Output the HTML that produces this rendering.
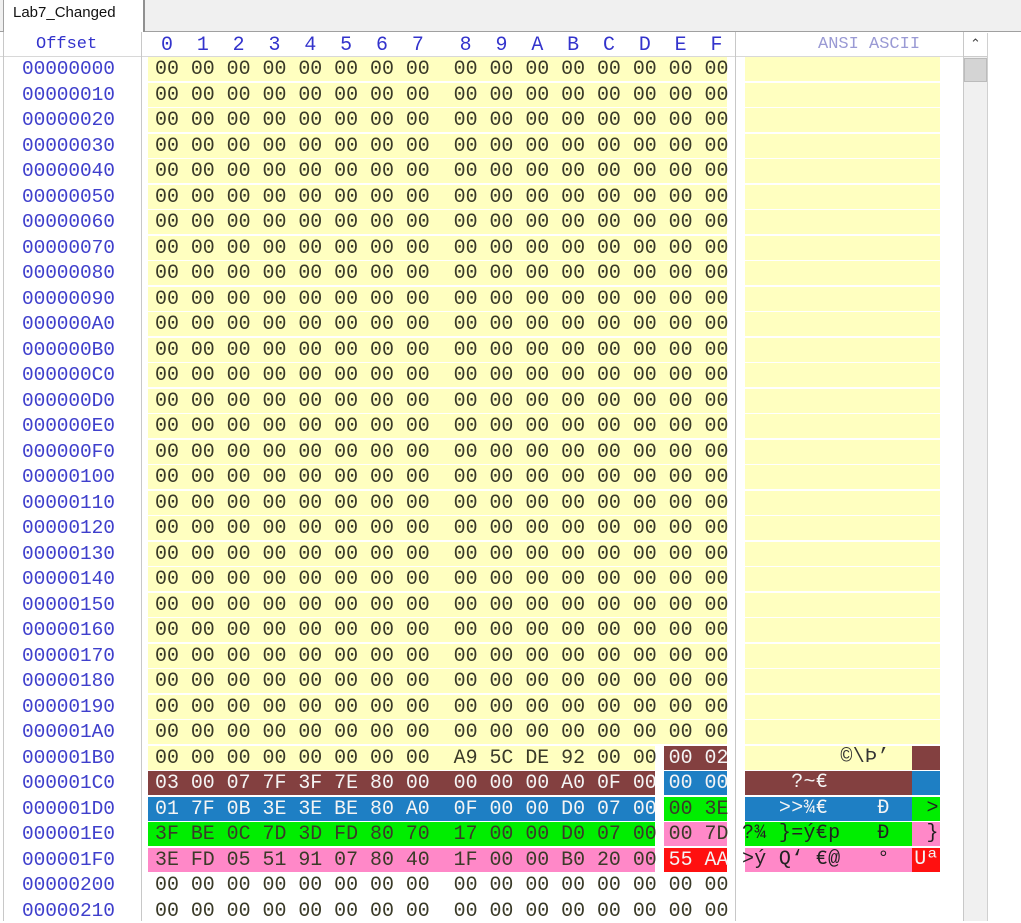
<!DOCTYPE html>
<html><head><meta charset="utf-8"><style>
body{margin:0;width:1021px;height:921px;background:#fff;position:relative;overflow:hidden;font-family:"Liberation Mono",monospace;}
.tabbar{position:absolute;left:0;top:0;width:1021px;height:31px;background:#f0f0f0;border-bottom:1px solid #a0a0a0;}
.tab{position:absolute;left:3px;top:0;width:139px;height:32px;background:#fff;border-left:1px solid #a0a0a0;border-right:2px solid #909090;font-family:"Liberation Sans",sans-serif;font-size:15px;line-height:26px;text-indent:9px;color:#111;}
.vl{position:absolute;top:32px;width:1px;height:889px;background:#c8c8c8;}
.hdr{position:absolute;top:33px;left:0;height:23px;width:963px;border-bottom:1px solid #d8d8d8;font-size:17px;line-height:23px;color:#3333cc;white-space:pre;}
.r{position:absolute;left:0;height:24px;width:963px;white-space:pre;font-size:19.92px;line-height:24px;}
.r i,.r b,.r u{top:0;}
.r i{position:absolute;left:22px;font-style:normal;color:#3f3fcc;font-size:19.5px;letter-spacing:-0.1px;}
.r b{position:absolute;left:155px;font-weight:normal;color:#3a3a28;}
.r u{position:absolute;left:742px;text-decoration:none;font-size:20px;letter-spacing:0.3px;}
.y:before{content:"";position:absolute;left:148px;width:579px;top:0;height:24px;background:#ffffc0;}
.y:after{content:"";position:absolute;left:745px;width:195px;top:0;height:24px;background:#ffffc0;}
.bx{position:absolute;top:0;height:24px;}
.r .w{color:#f4f4f4}
</style></head><body>
<div class="tabbar"></div>
<div class="tab">Lab7_Changed</div>
<div class="hdr"><span style="position:absolute;left:36px">Offset</span><span style="position:absolute;left:161px;font-size:19.92px">0  1  2  3  4  5  6  7   8  9  A  B  C  D  E  F</span><span style="position:absolute;left:818px;color:#9a9ad4">ANSI ASCII</span></div>
<div class="vl" style="left:3px"></div>
<div class="vl" style="left:141px"></div>
<div class="vl" style="left:735px"></div>
<div class="vl" style="left:963px"></div>
<div style="position:absolute;left:964px;top:33px;width:23px;height:888px;background:#f0f0f0;border-right:1px solid #d0d0d0"></div>
<div style="position:absolute;left:964px;top:33px;width:23px;height:23px;background:#fff;border-bottom:1px solid #ccc;text-align:center;font-family:'DejaVu Sans',sans-serif;font-size:13px;line-height:23px;color:#444">&#8963;</div>
<div style="position:absolute;left:964px;top:58px;width:23px;height:24px;background:#d4d4d4;border:1px solid #bbb;box-sizing:border-box"></div>

<div class="r y" style="top:57px"><i>00000000</i><b>00 00 00 00 00 00 00 00  00 00 00 00 00 00 00 00</b></div>
<div class="r y" style="top:82.5px"><i>00000010</i><b>00 00 00 00 00 00 00 00  00 00 00 00 00 00 00 00</b></div>
<div class="r y" style="top:108px"><i>00000020</i><b>00 00 00 00 00 00 00 00  00 00 00 00 00 00 00 00</b></div>
<div class="r y" style="top:133.5px"><i>00000030</i><b>00 00 00 00 00 00 00 00  00 00 00 00 00 00 00 00</b></div>
<div class="r y" style="top:159px"><i>00000040</i><b>00 00 00 00 00 00 00 00  00 00 00 00 00 00 00 00</b></div>
<div class="r y" style="top:184.5px"><i>00000050</i><b>00 00 00 00 00 00 00 00  00 00 00 00 00 00 00 00</b></div>
<div class="r y" style="top:210px"><i>00000060</i><b>00 00 00 00 00 00 00 00  00 00 00 00 00 00 00 00</b></div>
<div class="r y" style="top:235.5px"><i>00000070</i><b>00 00 00 00 00 00 00 00  00 00 00 00 00 00 00 00</b></div>
<div class="r y" style="top:261px"><i>00000080</i><b>00 00 00 00 00 00 00 00  00 00 00 00 00 00 00 00</b></div>
<div class="r y" style="top:286.5px"><i>00000090</i><b>00 00 00 00 00 00 00 00  00 00 00 00 00 00 00 00</b></div>
<div class="r y" style="top:312px"><i>000000A0</i><b>00 00 00 00 00 00 00 00  00 00 00 00 00 00 00 00</b></div>
<div class="r y" style="top:337.5px"><i>000000B0</i><b>00 00 00 00 00 00 00 00  00 00 00 00 00 00 00 00</b></div>
<div class="r y" style="top:363px"><i>000000C0</i><b>00 00 00 00 00 00 00 00  00 00 00 00 00 00 00 00</b></div>
<div class="r y" style="top:388.5px"><i>000000D0</i><b>00 00 00 00 00 00 00 00  00 00 00 00 00 00 00 00</b></div>
<div class="r y" style="top:414px"><i>000000E0</i><b>00 00 00 00 00 00 00 00  00 00 00 00 00 00 00 00</b></div>
<div class="r y" style="top:439.5px"><i>000000F0</i><b>00 00 00 00 00 00 00 00  00 00 00 00 00 00 00 00</b></div>
<div class="r y" style="top:465px"><i>00000100</i><b>00 00 00 00 00 00 00 00  00 00 00 00 00 00 00 00</b></div>
<div class="r y" style="top:490.5px"><i>00000110</i><b>00 00 00 00 00 00 00 00  00 00 00 00 00 00 00 00</b></div>
<div class="r y" style="top:516px"><i>00000120</i><b>00 00 00 00 00 00 00 00  00 00 00 00 00 00 00 00</b></div>
<div class="r y" style="top:541.5px"><i>00000130</i><b>00 00 00 00 00 00 00 00  00 00 00 00 00 00 00 00</b></div>
<div class="r y" style="top:567px"><i>00000140</i><b>00 00 00 00 00 00 00 00  00 00 00 00 00 00 00 00</b></div>
<div class="r y" style="top:592.5px"><i>00000150</i><b>00 00 00 00 00 00 00 00  00 00 00 00 00 00 00 00</b></div>
<div class="r y" style="top:618px"><i>00000160</i><b>00 00 00 00 00 00 00 00  00 00 00 00 00 00 00 00</b></div>
<div class="r y" style="top:643.5px"><i>00000170</i><b>00 00 00 00 00 00 00 00  00 00 00 00 00 00 00 00</b></div>
<div class="r y" style="top:669px"><i>00000180</i><b>00 00 00 00 00 00 00 00  00 00 00 00 00 00 00 00</b></div>
<div class="r y" style="top:694.5px"><i>00000190</i><b>00 00 00 00 00 00 00 00  00 00 00 00 00 00 00 00</b></div>
<div class="r y" style="top:720px"><i>000001A0</i><b>00 00 00 00 00 00 00 00  00 00 00 00 00 00 00 00</b></div>

<div class="r" style="top:745.5px"><div class="bx" style="left:148px;width:507px;background:#ffffc0"></div><div class="bx" style="left:664px;width:63px;background:#834040"></div><div class="bx" style="left:745px;width:167px;background:#ffffc0"></div><div class="bx" style="left:912px;width:28px;background:#834040"></div><i>000001B0</i><b>00 00 00 00 00 00 00 00  A9 5C DE 92 00 00 <span class="w">00 02</span></b><u style="color:#333">        ©\Þ’</u></div>

<div class="r" style="top:771px"><div class="bx" style="left:148px;width:507px;background:#834040"></div><div class="bx" style="left:664px;width:63px;background:#1e7fc4"></div><div class="bx" style="left:745px;width:167px;background:#834040"></div><div class="bx" style="left:912px;width:28px;background:#1e7fc4"></div><i>000001C0</i><b class="w">03 00 07 7F 3F 7E 80 00  00 00 00 A0 0F 00 00 00</b><u class="w">    ?~€</u></div>

<div class="r" style="top:796.5px"><div class="bx" style="left:148px;width:507px;background:#1e7fc4"></div><div class="bx" style="left:664px;width:63px;background:#00ee00"></div><div class="bx" style="left:745px;width:167px;background:#1e7fc4"></div><div class="bx" style="left:912px;width:28px;background:#00ee00"></div><i>000001D0</i><b><span class="w">01 7F 0B 3E 3E BE 80 A0  0F 00 00 D0 07 00 </span>00 3E</b><u><span class="w">   &gt;&gt;¾€    Ð  </span><span style="color:#222"> &gt;</span></u></div>

<div class="r" style="top:822px"><div class="bx" style="left:148px;width:507px;background:#00ee00"></div><div class="bx" style="left:664px;width:63px;background:#ff88c8"></div><div class="bx" style="left:745px;width:167px;background:#00ee00"></div><div class="bx" style="left:912px;width:28px;background:#ff88c8"></div><i>000001E0</i><b>3F BE 0C 7D 3D FD 80 70  17 00 00 D0 07 00 00 7D</b><u style="color:#222">?¾ }=ý€p   Ð   }</u></div>

<div class="r" style="top:847.5px"><div class="bx" style="left:148px;width:507px;background:#ff88c8"></div><div class="bx" style="left:664px;width:63px;background:#ff1010"></div><div class="bx" style="left:745px;width:167px;background:#ff88c8"></div><div class="bx" style="left:912px;width:28px;background:#ff1010"></div><i>000001F0</i><b>3E FD 05 51 91 07 80 40  1F 00 00 B0 20 00 <span class="w">55 AA</span></b><u><span style="color:#222">&gt;ý Q‘ €@   °  </span><span class="w">Uª</span></u></div>

<div class="r" style="top:873px"><i>00000200</i><b>00 00 00 00 00 00 00 00  00 00 00 00 00 00 00 00</b></div>
<div class="r" style="top:898.5px"><i>00000210</i><b>00 00 00 00 00 00 00 00  00 00 00 00 00 00 00 00</b></div>
</body></html>
